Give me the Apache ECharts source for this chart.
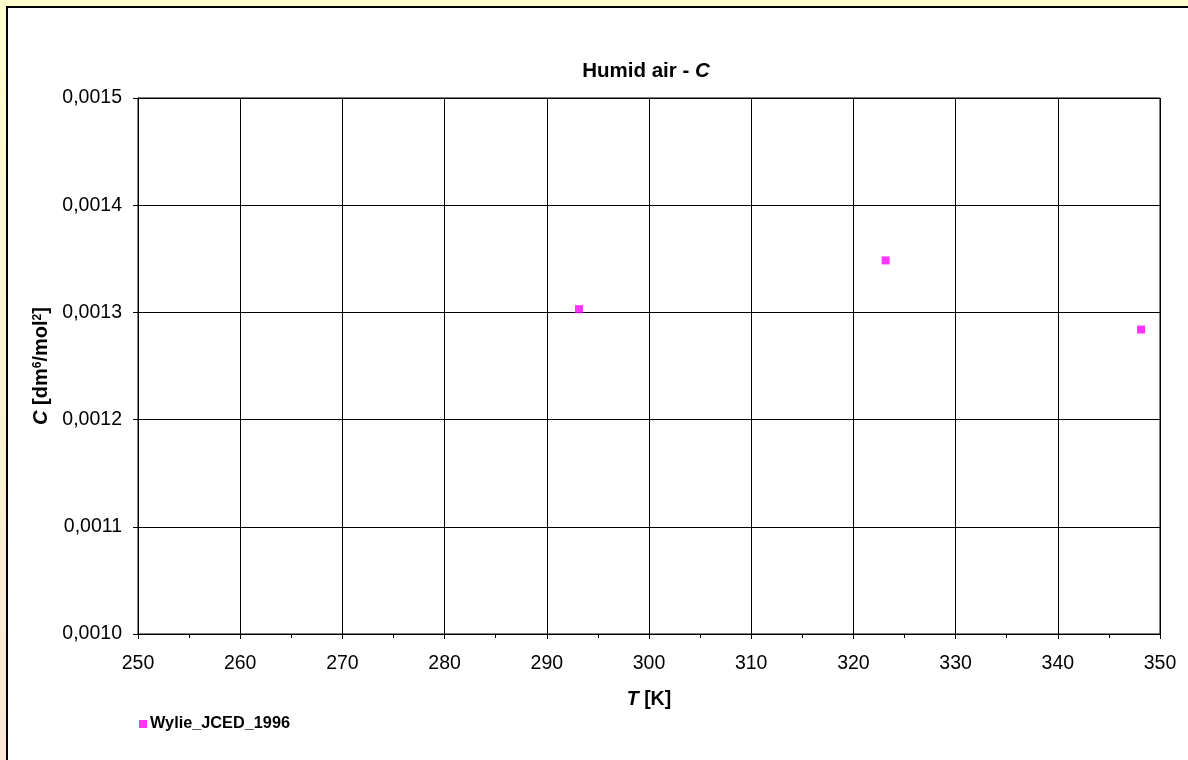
<!DOCTYPE html>
<html>
<head>
<meta charset="utf-8">
<script src="https://cdn.jsdelivr.net/npm/echarts@6/dist/echarts.min.js"></script>
<style>
html,body{margin:0;padding:0;background:#fff;}
#chart{width:1188px;height:760px;}
</style>
</head>
<body>
<div id="chart"></div>
<script>
// Data
const seriesName = 'Wylie_JCED_1996';
const temperatures = [293.15, 323.15, 348.15];
const cValues = [0.001303, 0.0013485, 0.001284];
const xTicks = { min: 250, max: 350, interval: 10 };
const yTicks = { min: 0.0010, max: 0.0015, interval: 0.0001 };

const points = temperatures.map((t, i) => [t, cValues[i]]);
const font = '"Liberation Sans", Arial, sans-serif';

const chart = echarts.init(document.getElementById('chart'), null, { renderer: 'canvas' });
chart.setOption({
  animation: false,
  textStyle: { fontFamily: font },
  graphic: [
    {
      type: 'rect', z: -100, silent: true,
      shape: { x: 0, y: 0, width: 1188, height: 760 },
      style: {
        fill: new echarts.graphic.LinearGradient(0, 0, 0, 1, [
          { offset: 0, color: '#FFFFCF' },
          { offset: 1, color: '#FBE7D4' }
        ])
      }
    },
    {
      type: 'rect', z: -99, silent: true,
      shape: { x: 7, y: 7, width: 1200, height: 800 },
      style: { fill: '#ffffff', stroke: '#000000', lineWidth: 2 }
    }
  ],
  title: {
    text: '{b|Humid air - }{i|C}',
    left: 641, top: 56, textAlign: 'center',
    textStyle: {
      rich: {
        b: { fontFamily: font, fontWeight: 'bold', fontSize: 20.5, color: '#000' },
        i: { fontFamily: font, fontWeight: 'bold', fontStyle: 'italic', fontSize: 20.5, color: '#000' }
      }
    }
  },
  legend: {
    left: 134, top: 711,
    itemWidth: 8, itemHeight: 8, itemGap: 10,
    icon: 'rect',
    textStyle: { fontFamily: font, fontWeight: 'bold', fontSize: 16.3, color: '#000', padding: [0, 0, 0, -2] },
    data: [seriesName]
  },
  grid: {
    left: 138, right: 28, top: 98, bottom: 126,
    show: true, backgroundColor: '#fff', borderColor: '#000', borderWidth: 1
  },
  xAxis: {
    type: 'value',
    min: xTicks.min, max: xTicks.max, interval: xTicks.interval,
    name: '{i|T}{b| [K]}',
    nameLocation: 'middle', nameGap: 56,
    nameTextStyle: {
      rich: {
        i: { fontFamily: font, fontWeight: 'bold', fontStyle: 'italic', fontSize: 19.5, color: '#000' },
        b: { fontFamily: font, fontWeight: 'bold', fontSize: 19.5, color: '#000' }
      }
    },
    axisLine: { show: true, lineStyle: { color: '#000', width: 1 } },
    axisTick: { show: true, length: 5, lineStyle: { color: '#000' } },
    minorTick: { show: true, splitNumber: 2, length: 4, lineStyle: { color: '#000' } },
    splitLine: { show: true, lineStyle: { color: '#000', width: 1 } },
    axisLabel: { fontFamily: font, fontSize: 19.5, color: '#000', margin: 20 }
  },
  yAxis: {
    type: 'value',
    min: yTicks.min, max: yTicks.max, interval: yTicks.interval,
    name: '{i|C}{b| [dm}{s|6}{b|/mol}{s|2}{b|]}',
    nameLocation: 'middle', nameGap: 81, nameRotate: 90,
    nameTextStyle: {
      rich: {
        i: { fontFamily: font, fontWeight: 'bold', fontStyle: 'italic', fontSize: 20, color: '#000' },
        b: { fontFamily: font, fontWeight: 'bold', fontSize: 20, color: '#000' },
        s: { fontFamily: font, fontWeight: 'bold', fontSize: 12, color: '#000', verticalAlign: 'top', padding: [0, 0, 8, 0] }
      }
    },
    axisLine: { show: true, lineStyle: { color: '#000', width: 1 } },
    axisTick: { show: true, length: 5, lineStyle: { color: '#000' } },
    splitLine: { show: true, lineStyle: { color: '#000', width: 1 } },
    axisLabel: {
      fontFamily: font, fontSize: 19.5, color: '#000', margin: 16,
      formatter: v => v.toFixed(4).replace('.', ',')
    }
  },
  series: [{
    name: seriesName,
    type: 'scatter',
    symbol: 'rect',
    symbolSize: 8,
    itemStyle: { color: '#FF00FF' },
    data: points
  }]
});
</script>
</body>
</html>
